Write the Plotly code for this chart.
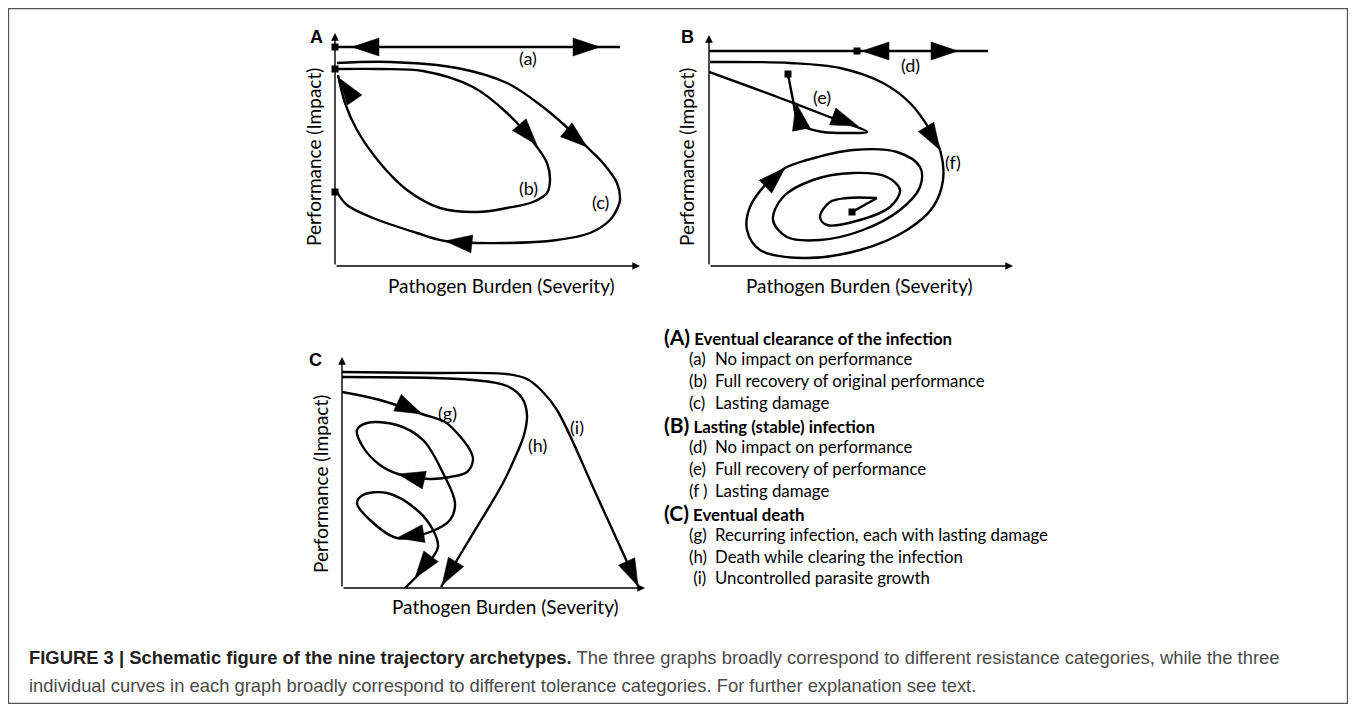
import math
import plotly.graph_objects as go

# The page body adds an 8px margin around the figure; geometry below is in page pixels.
PAGE_OFF = 8
FIG_W, FIG_H = 1340, 696

# ---------------- data (schematic control points, panel units) ----------------
# Panel A
A_curve_a = [(0, 219), (285, 219)]
A_curve_b = [(2, 197), (45, 197), (88, 195), (138, 179), (172, 153), (202, 119), (212, 103),
             (215, 86), (212, 73), (198, 64), (172, 58), (142, 54), (105, 58), (72, 76),
             (45, 103), (22, 136), (10, 163), (3, 191)]
A_curve_c = [(2, 203), (55, 204), (122, 198), (172, 183), (208, 159), (238, 133), (252, 119),
             (268, 103), (282, 83), (285, 66), (283, 59), (275, 46), (255, 33), (222, 26),
             (172, 23), (110, 25), (82, 33), (38, 48), (12, 61), (2, 74)]
A_squares = [(0, 219), (0, 197), (0, 74)]
A_arrows = [((17, 219), (45, 219)), ((265, 219), (237, 219)), ((202, 121), (182, 144)),
            ((4, 188), (18, 168)), ((252, 119), (228, 139)), ((110, 25), (138, 22))]
A_labels = [("(a)", 193, 208), ("(b)", 193, 78), ("(c)", 265, 64)]

# Panel B
B_curve_d = [(0, 215), (279, 215)]
B_curve_e = [(0, 194), (71, 168), (131, 145), (158, 134), (141, 133), (114, 134), (96, 139),
             (88, 148), (84, 166), (79, 192)]
B_curve_f = [(1, 204), (81, 203), (131, 198), (174, 183), (201, 163), (221, 136), (231, 116),
             (234, 86), (224, 59), (198, 36), (151, 16), (94, 8), (51, 16), (38, 36), (41, 59),
             (58, 83), (76, 98), (98, 106), (144, 116), (188, 114), (211, 99), (211, 79),
             (191, 56), (154, 36), (111, 26), (78, 29), (64, 46), (74, 69), (104, 86), (144, 93),
             (178, 89), (191, 76), (181, 59), (151, 46), (118, 41), (111, 49), (121, 64),
             (138, 68), (168, 68)]
B_curve_f_end = [(168, 68), (143, 54)]
B_squares = [(148, 215), (79, 192), (143, 54)]
B_arrows = [((153, 215), (180, 215)), ((249, 215), (221, 215)), ((149, 140), (125, 149)),
            ((87, 163), (91, 143)), ((231, 116), (216, 141)), ((76, 98), (53, 76))]
B_labels = [("(d)", 201, 201), ("(e)", 113, 169), ("(f)", 244, 104)]

# Panel C
C_curve_g = [(0, 196), (38, 188), (80, 174), (103, 166), (115, 155), (128, 138), (131, 128),
             (125, 116), (108, 111), (88, 109), (56, 114), (38, 123), (21, 141), (15, 158),
             (25, 165), (55, 163), (81, 148), (101, 115), (113, 85), (108, 68), (88, 56),
             (55, 50), (28, 68), (15, 85), (21, 93), (45, 95), (75, 78), (91, 58), (96, 41),
             (83, 21), (63, 0)]
C_curve_h = [(0, 211), (131, 208), (165, 202), (180, 190), (185, 173), (182, 153), (175, 135),
             (161, 105), (141, 71), (121, 38), (99, 1)]
C_curve_i = [(0, 216), (90, 215), (165, 214), (185, 209), (200, 197), (215, 178), (255, 92),
             (296, 2)]
C_arrows = [((80, 174), (56, 185)), ((56, 114), (86, 107)), ((55, 50), (85, 55)),
            ((73, 10), (90, 33)), ((100, 3), (114, 26)), ((296, 2), (283, 30))]
C_labels = [("(g)", 105, 175), ("(h)", 195, 143), ("(i)", 235, 161)]

axis_title_x = "Pathogen Burden (Severity)"
axis_title_y = "Performance (Impact)"

legend_rows = [
    ("head", "(A)", "Eventual clearance of the infection"),
    ("item", "(a)", "No impact on performance"),
    ("item", "(b)", "Full recovery of original performance"),
    ("item", "(c)", "Lasting damage"),
    ("head", "(B)", "Lasting (stable) infection"),
    ("item", "(d)", "No impact on performance"),
    ("item", "(e)", "Full recovery of performance"),
    ("item", "(f )", "Lasting damage"),
    ("head", "(C)", "Eventual death"),
    ("item", "(g)", "Recurring infection, each with lasting damage"),
    ("item", "(h)", "Death while clearing the infection"),
    ("item", " (i)", "Uncontrolled parasite growth"),
]

caption_bold = "FIGURE 3 | Schematic figure of the nine trajectory archetypes."
caption_1 = " The three graphs broadly correspond to different resistance categories, while the three"
caption_2 = "individual curves in each graph broadly correspond to different tolerance categories. For further explanation see text."

# ---------------- layout geometry (page pixels) ----------------
panels = {
    "A": dict(ox=335, oy=266, w=305, h=233, xa="x", ya="y", lx=316, ly=37,
              xt=(502, 285), yt=(314, 157)),
    "B": dict(ox=709, oy=266, w=304, h=231, xa="x2", ya="y2", lx=687, ly=37,
              xt=(859, 285), yt=(687, 157)),
    "C": dict(ox=342, oy=588, w=303, h=231, xa="x3", ya="y3", lx=315, ly=360,
              xt=(505, 606), yt=(320, 484)),
}

LABEL_FONT = "Lato, 'Open Sans', sans-serif"
CAP_FONT = "'Liberation Sans', Arial, sans-serif"
LINE_W = 2.4


def px(x):
    return (x - PAGE_OFF) / FIG_W


def py(y):
    return 1 - (y - PAGE_OFF) / FIG_H


fig = go.Figure()


def add_curve(pts, p, shape="spline"):
    fig.add_trace(go.Scatter(
        x=[q[0] for q in pts], y=[q[1] for q in pts], mode="lines",
        line=dict(color="black", width=LINE_W, shape=shape, smoothing=1.0),
        xaxis=p["xa"], yaxis=p["ya"], cliponaxis=False, hoverinfo="skip", showlegend=False))


def add_squares(pts, p):
    fig.add_trace(go.Scatter(
        x=[q[0] for q in pts], y=[q[1] for q in pts], mode="markers",
        marker=dict(symbol="square", size=7, color="black"),
        xaxis=p["xa"], yaxis=p["ya"], cliponaxis=False, hoverinfo="skip", showlegend=False))


def add_arrows(arrows, p, L=27, W=18):
    xs, ys = [], []
    for tip, frm in arrows:
        dx, dy = tip[0] - frm[0], tip[1] - frm[1]
        n = math.hypot(dx, dy)
        dx, dy = dx / n, dy / n
        bx, by = tip[0] - L * dx, tip[1] - L * dy
        nx, ny = -dy, dx
        xs += [tip[0], bx + nx * W / 2, bx - nx * W / 2, tip[0], None]
        ys += [tip[1], by + ny * W / 2, by - ny * W / 2, tip[1], None]
    fig.add_trace(go.Scatter(
        x=xs, y=ys, mode="lines", fill="toself", fillcolor="black",
        line=dict(color="black", width=0.5),
        xaxis=p["xa"], yaxis=p["ya"], cliponaxis=False, hoverinfo="skip", showlegend=False))


annotations = []


def add_labels(labels, p):
    for t, x, y in labels:
        annotations.append(dict(text=t, x=x, y=y, xref=p["xa"], yref=p["ya"], showarrow=False,
                                xanchor="center", yanchor="middle",
                                font=dict(family=LABEL_FONT, size=18, color="black")))


def paper_text(text, x, y, size, family=LABEL_FONT, color="black", xanchor="center",
               angle=0):
    annotations.append(dict(text=text, x=px(x), y=py(y), xref="paper", yref="paper",
                            xanchor=xanchor, yanchor="middle", showarrow=False,
                            textangle=angle, font=dict(family=family, size=size, color=color)))


pA, pB, pC = panels["A"], panels["B"], panels["C"]
add_curve(A_curve_a, pA, "linear")
add_curve(A_curve_b, pA)
add_curve(A_curve_c, pA)
add_squares(A_squares, pA)
add_arrows(A_arrows, pA)
add_labels(A_labels, pA)

add_curve(B_curve_d, pB, "linear")
add_curve(B_curve_e, pB)
add_curve(B_curve_f, pB)
add_curve(B_curve_f_end, pB, "linear")
add_squares(B_squares, pB)
add_arrows(B_arrows, pB)
add_labels(B_labels, pB)

add_curve(C_curve_g, pC)
add_curve(C_curve_h, pC)
add_curve(C_curve_i, pC)
add_arrows(C_arrows, pC)
add_labels(C_labels, pC)

layout_axes = {}
for key, p in panels.items():
    xname = "xaxis" + ("" if p["xa"] == "x" else p["xa"][1:])
    yname = "yaxis" + ("" if p["ya"] == "y" else p["ya"][1:])
    layout_axes[xname] = dict(domain=[px(p["ox"]), px(p["ox"] + p["w"])], range=[0, p["w"]],
                              visible=False, anchor=p["ya"], fixedrange=True)
    layout_axes[yname] = dict(domain=[py(p["oy"]), py(p["oy"] - p["h"])], range=[0, p["h"]],
                              visible=False, anchor=p["xa"], fixedrange=True)
    # axis lines with small arrowheads
    for tx, ty in [(p["w"], 0), (0, p["h"])]:
        annotations.append(dict(x=tx, y=ty, ax=0, ay=0, xref=p["xa"], yref=p["ya"],
                                axref=p["xa"], ayref=p["ya"], text="", showarrow=True,
                                arrowhead=2, arrowsize=1.1, arrowwidth=1.4, arrowcolor="black"))
    paper_text("<b>%s</b>" % key, p["lx"], p["ly"], 18, family=CAP_FONT)
    paper_text(axis_title_x, p["xt"][0], p["xt"][1], 19)
    paper_text(axis_title_y, p["yt"][0], p["yt"][1], 19, angle=-90)

# legend block
LEG_X, LEG_Y0, LEG_DY = 662, 337, 21.9
TAG_DX, TXT_DX = 25, 51
for i, (kind, tag, txt) in enumerate(legend_rows):
    yy = LEG_Y0 + i * LEG_DY
    if kind == "head":
        paper_text("<b><span style='font-size:21px'>%s</span> %s</b>" % (tag, txt),
                   LEG_X, yy, 16.8, xanchor="left")
    else:
        paper_text(tag, LEG_X + TAG_DX, yy, 16.8, xanchor="left")
        paper_text(txt, LEG_X + TXT_DX, yy, 16.8, xanchor="left")

# caption
paper_text("<b><span style='color:#231f20'>%s</span></b>%s" % (caption_bold, caption_1),
           27, 657, 18.4, family=CAP_FONT, color="#4a4a4a", xanchor="left")
paper_text(caption_2, 27, 685, 18.4, family=CAP_FONT, color="#4a4a4a", xanchor="left")

fig.update_layout(
    width=FIG_W, height=FIG_H, margin=dict(l=0, r=0, t=0, b=0),
    paper_bgcolor="white", plot_bgcolor="rgba(0,0,0,0)", showlegend=False,
    annotations=annotations,
    shapes=[dict(type="rect", xref="paper", yref="paper", x0=px(8.6), x1=px(1347.4),
                 y0=py(703.4), y1=py(8.6), line=dict(color="#555555", width=1.2))],
    **layout_axes)

fig.write_html("out.html", config={"displayModeBar": False})
